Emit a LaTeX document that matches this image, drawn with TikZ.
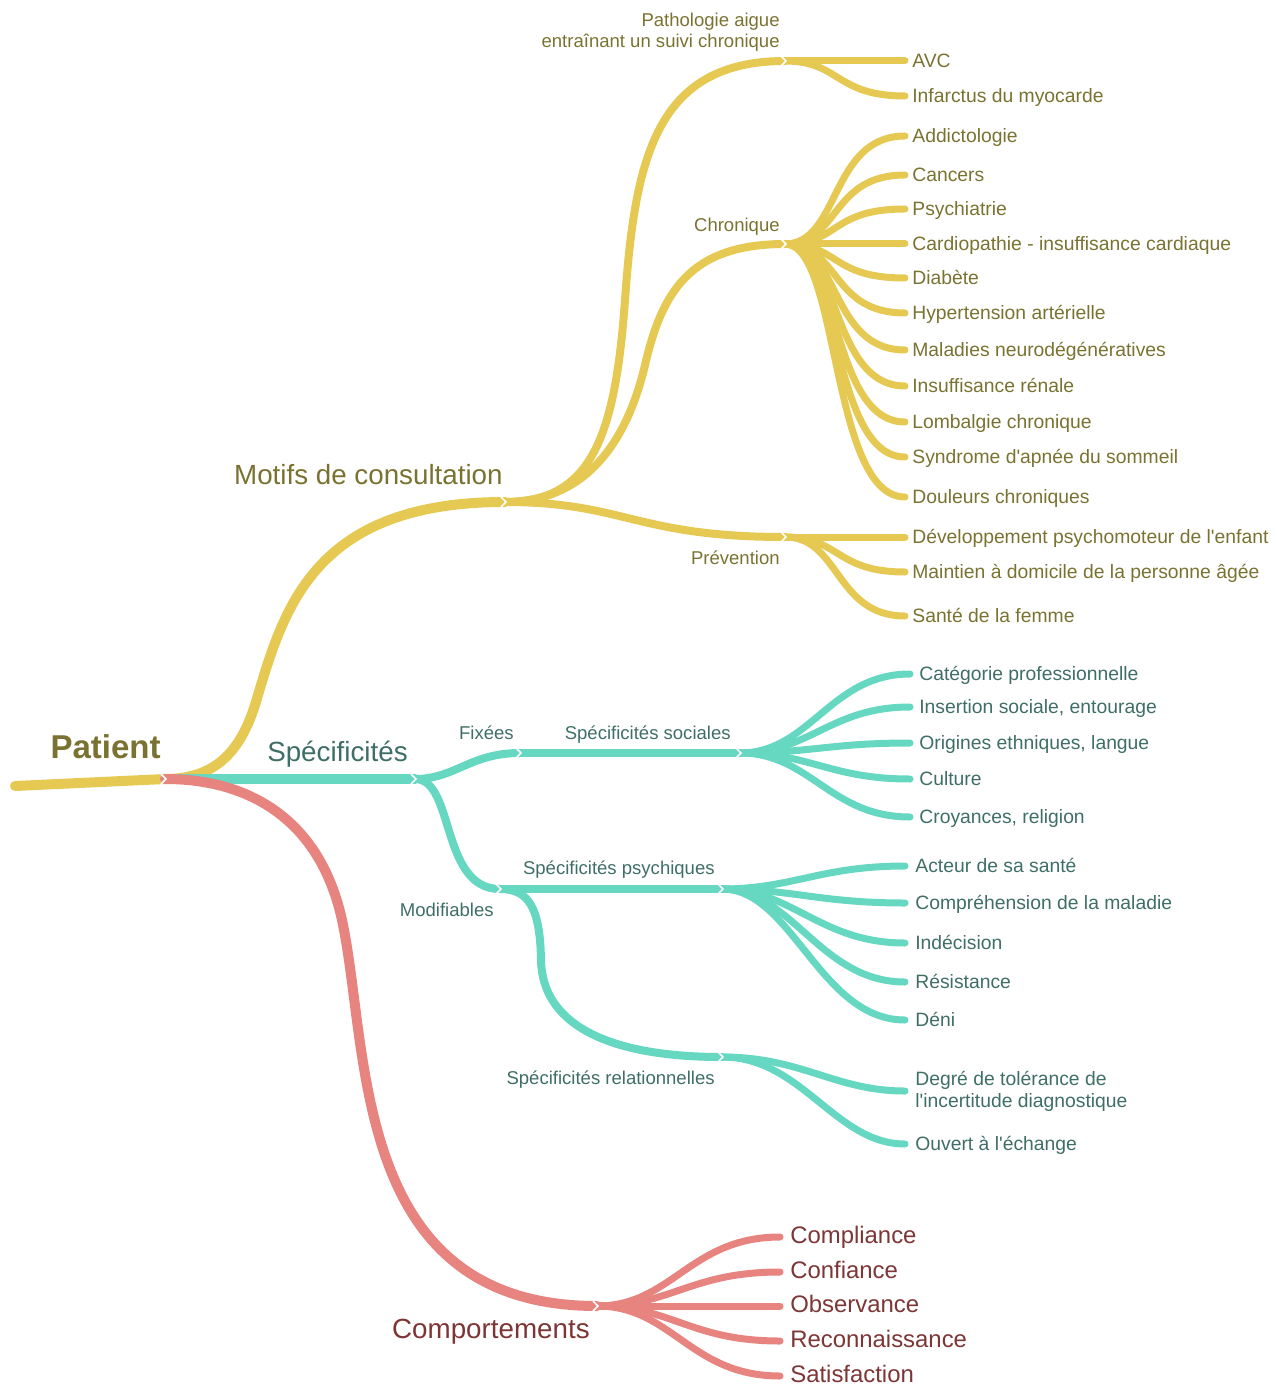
\documentclass[tikz,border=0pt]{standalone}
\usepackage{fontspec}
\setmainfont{Liberation Sans}[Ligatures=TeXOff]
\usetikzlibrary{calc}

\definecolor{jaune}{HTML}{E5C953}
\definecolor{jauneTxt}{HTML}{7A7230}
\definecolor{turq}{HTML}{66D7C1}
\definecolor{turqTxt}{HTML}{3F6E66}
\definecolor{rouge}{HTML}{E8847F}
\definecolor{rougeTxt}{HTML}{7D3535}

\begin{document}
\begin{tikzpicture}[x=0.02cm, y=-0.02cm,
  trunk/.style={line width=0.2cm, line cap=round},
  twig/.style={line width=0.16cm, line cap=round},
  leaf/.style={line width=0.14cm, line cap=round},
  chev/.style={draw=white, line width=0.9pt},
  lab/.style={inner sep=0pt, text height=0.8em, text depth=0.08em},
  lab0/.style={lab, font=\fontsize{18.8}{22}\selectfont\bfseries},
  lab1/.style={lab, font=\fontsize{15.8}{18}\selectfont},
  lab2/.style={lab, font=\fontsize{10.55}{12}\selectfont},
  feuille/.style={lab, anchor=west, inner xsep=0.14cm, font=\fontsize{11}{12.5}\selectfont},
  feuilleR/.style={lab, anchor=west, inner xsep=0.2cm, font=\fontsize{13.6}{15}\selectfont, text=rougeTxt}]
  \useasboundingbox (0,0) rectangle (1276,1388);

  % junctions
  \coordinate (racine) at (15,786);
  \coordinate (pat) at (165,779);
  \coordinate (mot) at (505,502);
  \coordinate (pth) at (785,61);
  \coordinate (chro) at (785,244);
  \coordinate (prev) at (785,537);
  \coordinate (spe) at (415,779);
  \coordinate (fix) at (520,753);
  \coordinate (soc) at (740,753);
  \coordinate (mod) at (500,889);
  \coordinate (psy) at (722,889);
  \coordinate (rel) at (722,1057);
  \coordinate (comp) at (597,1306);

  % Motifs de consultation
  \draw[trunk, jaune] (racine) -- (pat);
  \draw[trunk, jaune] (pat) .. controls (215,779) and (240,752) .. (255,705)
    .. controls (283,612) and (310,502) .. (mot);
  \draw[twig, jaune] (mot) .. controls (590,502) and (615,440) .. (625,300)
    .. controls (635,160) and (655,61) .. (pth);
  \draw[twig, jaune] (mot) .. controls (580,502) and (625,450) .. (645,365)
    .. controls (662,292) and (690,244) .. (chro);
  \draw[twig, jaune] (mot) .. controls +(120,0) and +(-150,0) .. (prev);
  \foreach \y/\txt [count=\i] in {61/AVC, 96/Infarctus du myocarde} {
    \node[feuille, text=jauneTxt] (pth\i) at (905,\y) {\txt};
    \draw[leaf, jaune] (pth) .. controls +(55,0) and +(-70,0) .. (pth\i.west);
  }
  \foreach \y/\txt [count=\i] in {136/Addictologie, 175/Cancers, 209/Psychiatrie,
      244/Cardiopathie - insuffisance cardiaque, 278/Diabète, 313/Hypertension artérielle,
      350/Maladies neurodégénératives, 386/Insuffisance rénale, 422/Lombalgie chronique,
      457/Syndrome d'apnée du sommeil, 497/Douleurs chroniques} {
    \node[feuille, text=jauneTxt] (chr\i) at (905,\y) {\txt};
    \draw[leaf, jaune] (chro) .. controls +(55,0) and +(-75,0) .. (chr\i.west);
  }
  \foreach \y/\txt [count=\i] in {537/Développement psychomoteur de l'enfant,
      572/Maintien à domicile de la personne âgée, 616/Santé de la femme} {
    \node[feuille, text=jauneTxt] (prv\i) at (905,\y) {\txt};
    \draw[leaf, jaune] (prev) .. controls +(55,0) and +(-70,0) .. (prv\i.west);
  }

  % Specificites
  \draw[trunk, turq] (pat) -- (spe);
  \draw[twig, turq] (spe) .. controls +(40,0) and +(-50,0) .. (fix);
  \draw[twig, turq] (fix) -- (soc);
  \draw[twig, turq] (spe) .. controls +(40,0) and +(-60,0) .. (mod);
  \draw[twig, turq] (mod) -- (psy);
  \draw[twig, turq] (mod) .. controls (530,889) and (540,910) .. (541,960)
    .. controls (542,1020) and (600,1057) .. (rel);
  \foreach \y/\txt [count=\i] in {674/Catégorie professionnelle, 707/{Insertion sociale, entourage},
      743/{Origines ethniques, langue}, 779/Culture, 817/{Croyances, religion}} {
    \node[feuille, inner xsep=0.18cm, text=turqTxt] (soc\i) at (910,\y) {\txt};
    \draw[leaf, turq] (soc) .. controls +(70,0) and +(-80,0) .. (soc\i.west);
  }
  \foreach \y/\txt [count=\i] in {866/Acteur de sa santé, 903/Compréhension de la maladie,
      943/Indécision, 982/Résistance, 1020/Déni} {
    \node[feuille, inner xsep=0.2cm, text=turqTxt] (psy\i) at (905,\y) {\txt};
    \draw[leaf, turq] (psy) .. controls +(70,0) and +(-85,0) .. (psy\i.west);
  }
  \node[anchor=west, inner sep=0pt, inner xsep=0.2cm, align=left, text=turqTxt,
    font=\fontsize{11}{12.5}\selectfont] (rel1) at (905,1091)
    {Degré de tolérance de\\l'incertitude diagnostique};
  \node[feuille, inner xsep=0.2cm, text=turqTxt] (rel2) at (905,1144) {Ouvert à l'échange};
  \draw[leaf, turq] (rel) .. controls +(80,0) and +(-70,0) .. (rel1.west);
  \draw[leaf, turq] (rel) .. controls +(80,0) and +(-70,0) .. (rel2.west);

  % Comportements
  \draw[trunk, rouge] (pat) .. controls (250,779) and (320,820) .. (342,920)
    .. controls (370,1050) and (350,1306) .. (comp);
  \foreach \y/\txt [count=\i] in {1237/Compliance, 1272/Confiance, 1306/Observance,
      1341/Reconnaissance, 1376/Satisfaction} {
    \node[feuilleR] (cmp\i) at (780,\y) {\txt};
    \draw[leaf, rouge] (comp) .. controls +(75,0) and +(-90,0) .. (cmp\i.west);
  }

  % chevrons at the junctions
  \foreach \j in {pat,mot,pth,chro,prev,spe,fix,soc,mod,psy,rel,comp}
    \draw[chev] ($(\j)+(-4,-5)$) -- ++(5,5) -- ++(-5,5);

  % branch labels
  \node[lab0, text=jauneTxt, anchor=east] (patL) at (161,752) {Patient};
  \node[lab1, text=jauneTxt, anchor=east] (motL) at (503,478) {Motifs de consultation};
  \node[anchor=east, inner sep=0pt, align=right, text=jauneTxt,
    font=\fontsize{10.55}{12}\selectfont] (pthL) at (780,32)
    {Pathologie aigue\\entraînant un suivi chronique};
  \node[lab2, text=jauneTxt, anchor=east] (chroL) at (780,225) {Chronique};
  \node[lab2, text=jauneTxt, anchor=east] (prevL) at (780,558) {Prévention};
  \node[lab1, text=turqTxt, anchor=east] (speL) at (408,755) {Spécificités};
  \node[lab2, text=turqTxt, anchor=east] (fixL) at (514,733) {Fixées};
  \node[lab2, text=turqTxt, anchor=east] (socL) at (731,733) {Spécificités sociales};
  \node[lab2, text=turqTxt, anchor=east] (modL) at (494,910) {Modifiables};
  \node[lab2, text=turqTxt, anchor=east] (psyL) at (715,868) {Spécificités psychiques};
  \node[lab2, text=turqTxt, anchor=east] (relL) at (715,1078) {Spécificités relationnelles};
  \node[lab1, text=rougeTxt, anchor=east] (compL) at (590,1332) {Comportements};
\end{tikzpicture}
\end{document}
